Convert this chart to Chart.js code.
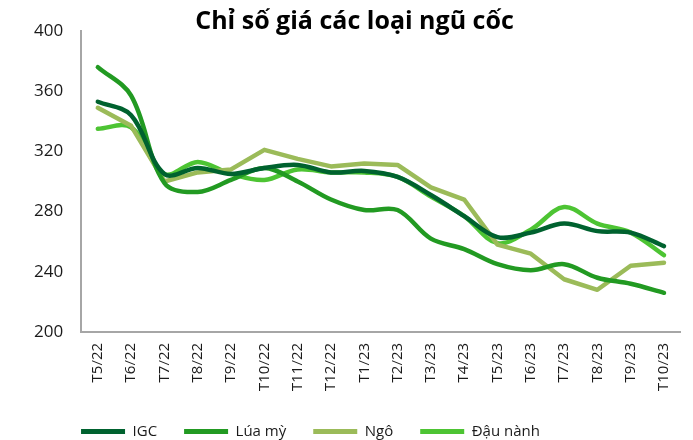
<!DOCTYPE html>
<html lang="vi">
<head>
    <meta charset="utf-8">
    <title>Chỉ số giá các loại ngũ cốc</title>
    <script src="https://cdn.jsdelivr.net/npm/chart.js@4.4.1/dist/chart.umd.min.js"></script>
    <style>
        html, body { margin: 0; padding: 0; background: #fff; overflow: hidden; }
        #wrap { width: 693px; height: 440px; }
    </style>
</head>
<body>
<div id="wrap">
    <canvas id="grainChart"></canvas>
</div>
<script>
    // categories (month/year)
    const labels = ["T5/22", "T6/22", "T7/22", "T8/22", "T9/22", "T10/22", "T11/22", "T12/22",
                    "T1/23", "T2/23", "T3/23", "T4/23", "T5/23", "T6/23", "T7/23", "T8/23", "T9/23", "T10/23"];

    // series values
    const igc     = [353, 344, 305, 309, 305, 309, 311, 306, 307, 303, 291, 277, 263, 266, 272, 267, 266, 257];
    const luaMy   = [376, 357, 299, 293, 301, 309, 300, 288, 281, 281, 262, 255, 245, 241, 245, 236, 232, 226];
    const ngo     = [349, 337, 300, 306, 308, 321, 315, 310, 312, 311, 296, 288, 258, 252, 235, 228, 244, 246];
    const dauNanh = [335, 336, 305, 313, 305, 301, 308, 306, 306, 303, 290, 277, 259, 268, 283, 272, 266, 251];

    // y axis ticks
    const yTicks = [200, 240, 280, 320, 360, 400];

    function series(label, data, color, tension) {
      return {
        label: label,
        data: data,
        borderColor: color,
        backgroundColor: color,
        borderWidth: 4.5,
        borderCapStyle: "round",
        borderJoinStyle: "round",
        tension: tension,
        pointRadius: 0,
        pointHoverRadius: 0,
        pointStyle: "line",
        pointBorderColor: color,
        pointBorderWidth: 5
      };
    }

    // legend is not centred in the original, push it left a bit
    const shiftLegend = {
      id: "shiftLegend",
      afterLayout(chart) {
        chart.legend.left -= 44;
        chart.legend.right -= 44;
      }
    };

    const ctx = document.getElementById("grainChart").getContext("2d");
    const grainChart = new Chart(ctx, {
      type: "line",
      data: {
        labels: labels,
        datasets: [
          series("IGC", igc, "#00622f", 0.35),
          series("Lúa mỳ", luaMy, "#229a22", 0.35),
          series("Ngô", ngo, "#9bbb59", 0),
          series("Đậu nành", dauNanh, "#4dc433", 0.35)
        ]
      },
      plugins: [shiftLegend],
      options: {
        responsive: true,
        maintainAspectRatio: false,
        animation: false,
        layout: {
          padding: { left: 16, right: 0, top: 3, bottom: -9 }
        },
        plugins: {
          title: {
            display: true,
            text: "Chỉ số giá các loại ngũ cốc",
            color: "#000",
            font: { family: "Open Sans", size: 25, weight: "bold" },
            padding: { top: 4, bottom: -6 }
          },
          legend: {
            position: "bottom",
            labels: {
              usePointStyle: true,
              pointStyleWidth: 44,
              padding: 27,
              color: "#1a1a1a",
              font: { family: "Open Sans", size: 15 }
            }
          },
          tooltip: { enabled: false }
        },
        scales: {
          x: {
            offset: true,
            afterFit: (scale) => {
              // tick padding is counted twice, take a bit back
              scale.height -= 5;
            },
            grid: { display: false, drawTicks: false },
            border: { display: true, color: "#a6a6a6", width: 2 },
            ticks: {
              minRotation: 90,
              maxRotation: 90,
              autoSkip: false,
              padding: 11,
              color: "#1a1a1a",
              font: { family: "Open Sans", size: 15 }
            }
          },
          y: {
            min: yTicks[0],
            max: yTicks[yTicks.length - 1],
            afterBuildTicks: (axis) => {
              axis.ticks = yTicks.map(v => ({ value: v }));
            },
            grid: { display: false, drawTicks: false },
            border: { display: true, color: "#a6a6a6", width: 2 },
            ticks: {
              padding: 18,
              color: "#1a1a1a",
              font: { family: "Open Sans", size: 17 }
            }
          }
        }
      }
    });
</script>
</body>
</html>
